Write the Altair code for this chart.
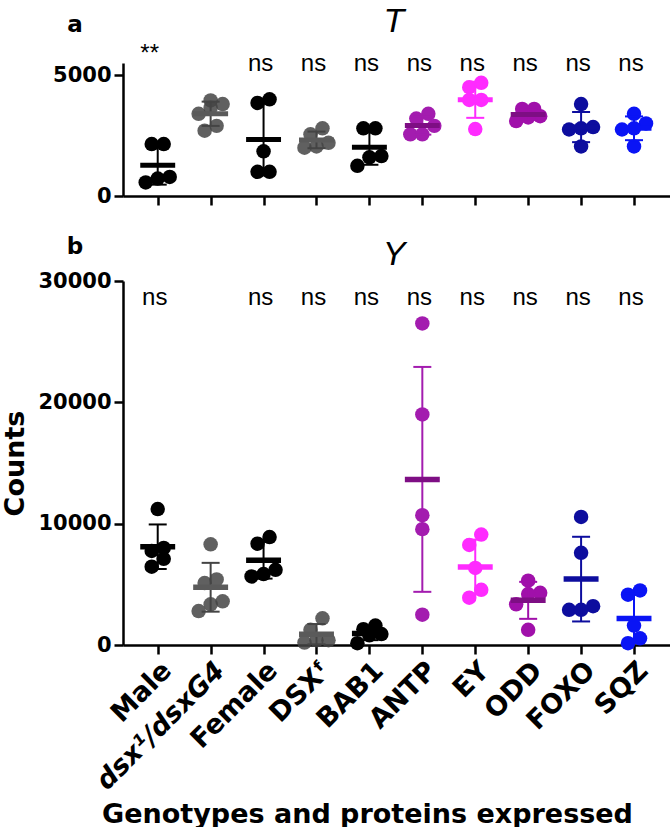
import json
import altair as alt
import pandas as pd

# Genotypes / expressed proteins along the x axis
categories = ["Male", "dsx¹/dsxG4", "Female", "DSXᶠ", "BAB1",
              "ANTP", "EY", "ODD", "FOXO", "SQZ"]

# Counts per replicate, T region
t_counts = [
    [2150, 2150, 560, 790, 720],
    [3950, 3800, 3650, 3400, 2900, 2700],
    [4000, 3850, 1850, 1000, 1000],
    [2800, 2550, 2200, 2050, 2000],
    [2800, 2800, 1650, 1600, 1250],
    [3400, 3200, 2900, 2550, 2550],
    [4680, 4500, 3970, 3970, 2770],
    [3600, 3600, 3300, 3250, 3100],
    [3800, 2850, 2800, 2750, 2050],
    [3400, 3000, 2800, 2750, 2050],
]

# Counts per replicate, Y region
y_counts = [
    [11200, 8000, 7750, 7100, 6450],
    [8300, 5400, 5100, 3600, 3350, 2800],
    [8900, 8350, 6200, 5850, 5650],
    [2200, 1250, 400, 400, 200],
    [1600, 1300, 900, 800, 150],
    [26500, 19000, 10700, 9550, 2500],
    [9100, 8250, 6350, 4550, 3900],
    [5300, 4300, 4200, 3350, 1250],
    [10550, 7600, 3200, 2900, 2900],
    [4500, 4150, 1600, 550, 150],
]

t_signif = ["**", "", "ns", "ns", "ns", "ns", "ns", "ns", "ns", "ns"]
y_signif = ["ns", "", "ns", "ns", "ns", "ns", "ns", "ns", "ns", "ns"]

point_colors = ["#000000", "#444444", "#000000", "#444444", "#000000",
                "#a31caf", "#ff2bff", "#a010aa", "#0d0d9e", "#0a14f5"]
mean_colors = ["#000000", "#5a5a5a", "#000000", "#5a5a5a", "#000000",
               "#7e0e84", "#ff2bff", "#7e0e84", "#0d0d9e", "#0a14f5"]
point_alpha = [1, 0.85, 1, 0.85, 1, 1, 1, 1, 1, 1]

# ---- layout constants ----
W = 547
H_TOP, H_BOT = 133, 364
T_MAX, Y_MAX = 5500, 30000
X_DOMAIN = [-0.656, 9.68]
STEP = W / (X_DOMAIN[1] - X_DOMAIN[0])   # pixels per category


def spread(values, px_per_unit, step_px=12, gap_px=12):
    """Scatter layout: values that sit close together are put in a row
    and spread sideways around the category centre."""
    order = sorted(range(len(values)), key=lambda i: values[i])
    rows, current = [], []
    for i in order:
        if current and (values[i] - values[current[0]]) * px_per_unit > gap_px:
            rows.append(current)
            current = []
        current.append(i)
    rows.append(current)
    offs = [0.0] * len(values)
    for row in rows:
        n = len(row)
        for k, i in enumerate(row):
            offs[i] = (k - (n - 1) / 2) * step_px
    return offs


def build_frame(counts, ymax, height):
    ppu = height / ymax
    rows = []
    for i, grp in enumerate(counts):
        offs = spread(grp, ppu)
        for v, o in zip(grp, offs):
            rows.append(dict(idx=i, value=v, xpos=i + o / STEP,
                             pcolor=point_colors[i], mcolor=mean_colors[i],
                             alpha=point_alpha[i]))
    return pd.DataFrame(rows)


label_expr = json.dumps(categories, ensure_ascii=False) + "[datum.value]"


def panel(counts, signif, ymax, yticks, height, bottom, letter, region,
          letter_y, region_y, ns_y, star_y):
    df = build_frame(counts, ymax, height)
    sig_df = pd.DataFrame({"idx": list(range(len(signif))), "label": signif})

    x_scale = alt.Scale(domain=X_DOMAIN, nice=False, zero=False)
    y_scale = alt.Scale(domain=[0, ymax], nice=False)

    if bottom:
        x_axis = alt.Axis(
            values=list(range(10)), labelExpr=label_expr, labelAngle=-45,
            labelOverlap=False, labelBound=False,
            labelFont="DejaVu Sans", labelFontWeight="bold", labelFontSize=27,
            labelFontStyle={"condition": {"test": "datum.value == 1",
                                          "value": "italic"},
                            "value": "normal"},
            labelPadding=3, tickSize=9, tickWidth=2.5, domainWidth=2.5,
            domainColor="black", tickColor="black", labelColor="black",
            title="Genotypes and proteins expressed",
            titleFont="DejaVu Sans", titleFontWeight="bold", titleFontSize=27,
            titleColor="black", titleX=244, titleY=177,
            titleBaseline="alphabetic", grid=False)
        y_axis = alt.Axis(
            values=yticks, format="d", title="Counts",
            titleFont="DejaVu Sans", titleFontWeight="bold", titleFontSize=27,
            titleColor="black", titleX=-100, titleBaseline="alphabetic",
            titleAngle=-90)
    else:
        x_axis = alt.Axis(values=list(range(10)), labels=False, title=None,
                          tickSize=9, tickWidth=2.5, domainWidth=2.5,
                          domainColor="black", tickColor="black", grid=False)
        y_axis = alt.Axis(values=yticks, format="d", title=None)

    def X(field):
        return alt.X(field, type="quantitative", scale=x_scale, axis=x_axis)

    def Y(field):
        return alt.Y(field, type="quantitative", scale=y_scale, axis=y_axis)

    base = alt.Chart(df)
    points = base.mark_circle(size=210, strokeWidth=0).encode(
        x=X("xpos"), y=Y("value"),
        color=alt.Color("pcolor:N", scale=None),
        opacity=alt.Opacity("alpha:Q", scale=None),
    )

    stats = base.transform_aggregate(
        mean="mean(value)", sd="stdev(value)",
        groupby=["idx", "pcolor", "mcolor"],
    ).transform_calculate(
        lo="datum.mean - datum.sd", hi="datum.mean + datum.sd",
        cl="datum.idx - 0.17", cr="datum.idx + 0.17",
        ml="datum.idx - 0.33", mr="datum.idx + 0.33",
    )
    err = stats.mark_rule(strokeWidth=2).encode(
        x=X("idx"), y=Y("lo"), y2="hi:Q",
        color=alt.Color("pcolor:N", scale=None))
    cap_hi = stats.mark_rule(strokeWidth=2).encode(
        x=X("cl"), x2="cr:Q", y=Y("hi"),
        color=alt.Color("pcolor:N", scale=None))
    cap_lo = stats.mark_rule(strokeWidth=2).encode(
        x=X("cl"), x2="cr:Q", y=Y("lo"),
        color=alt.Color("pcolor:N", scale=None))
    mean_bar = stats.mark_rule(strokeWidth=5.5 if bottom else 5).encode(
        x=X("ml"), x2="mr:Q", y=Y("mean"),
        color=alt.Color("mcolor:N", scale=None))

    sig = alt.Chart(sig_df)
    ns_text = sig.transform_filter("datum.label == 'ns'").mark_text(
        font="Liberation Sans", fontSize=24, color="black",
        baseline="alphabetic", align="center", dx=-3,
    ).encode(x=X("idx"), y=alt.value(ns_y), text="label:N")
    star_text = sig.transform_filter("datum.label == '**'").mark_text(
        font="Liberation Sans", fontSize=24, color="black",
        baseline="alphabetic", align="center", dx=-8,
    ).encode(x=X("idx"), y=alt.value(star_y), text="label:N")

    heads = pd.DataFrame({"t": [letter], "r": [region]})
    letter_text = alt.Chart(heads).mark_text(
        font="DejaVu Sans", fontWeight="bold", fontSize=23, color="black",
        baseline="alphabetic", align="center",
    ).encode(x=alt.value(-48), y=alt.value(letter_y), text="t:N")
    region_text = alt.Chart(heads).mark_text(
        font="Liberation Sans", fontStyle="italic", fontSize=34,
        color="black", baseline="alphabetic", align="center",
    ).encode(x=alt.value(271), y=alt.value(region_y), text="r:N")

    return alt.layer(points, err, cap_hi, cap_lo, mean_bar, ns_text,
                     star_text, letter_text, region_text).properties(
        width=W, height=height)


top = panel(t_counts, t_signif, T_MAX, [0, 5000], H_TOP, False,
            "a", "T", letter_y=-31, region_y=-31, ns_y=7.5, star_y=-2)
bot = panel(y_counts, y_signif, Y_MAX, [0, 10000, 20000, 30000], H_BOT,
            True, "b", "Y", letter_y=-27, region_y=-16, ns_y=24, star_y=0)

chart = alt.vconcat(top, bot, spacing=85, bounds="flush").properties(
    padding={"left": 1, "top": 5, "right": 0, "bottom": 0},
    background="white",
).configure_view(stroke=None).configure_axisY(
    labelFont="DejaVu Sans", labelFontWeight="bold", labelFontSize=21,
    labelColor="black", labelPadding=3, tickSize=9, tickWidth=2.5,
    domainWidth=2.5, domainColor="black", tickColor="black", grid=False,
)

chart.save("out.html", embed_options={"renderer": "svg", "actions": False})
